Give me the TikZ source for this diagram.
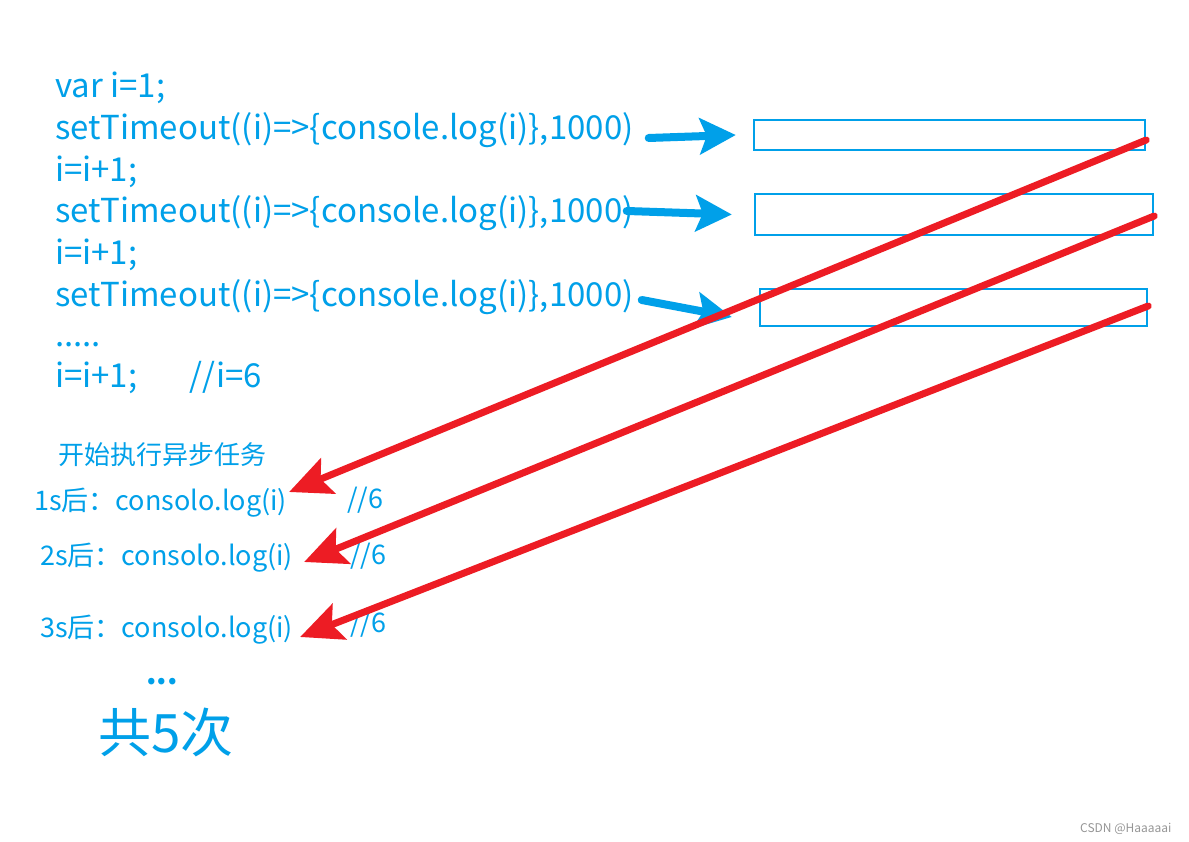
\documentclass[tikz,border=0pt]{standalone}
\usepackage{fontspec}
\setmainfont{Noto Sans CJK SC}
\usetikzlibrary{arrows.meta}
\begin{document}
\begin{tikzpicture}[x=1pt,y=1pt]
  \definecolor{codeblue}{RGB}{0,160,233}
  \definecolor{backred}{RGB}{237,28,36}
  \definecolor{markgray}{RGB}{150,150,150}
  \tikzset{
    code/.style={anchor=base west,inner sep=0pt,text=codeblue,font=\fontsize{33}{38}\selectfont},
    logline/.style={anchor=base west,inner sep=0pt,text=codeblue,font=\fontsize{27}{30}\selectfont},
    slot/.style={draw=codeblue,line width=2.4pt,inner sep=0pt},
    push/.style={codeblue,line width=8pt,line cap=round,-{Stealth[length=36pt,width=36pt,inset=7pt]}},
    back/.style={backred,line width=7pt,line cap=round,-{Stealth[length=42pt,width=38pt,inset=8pt]}}
  }
  \fill[white] (0,0) rectangle (1189,841);
  % code on the left
  \node[code] (v1)   at (55,743) {var i=1;};
  \node[code] (set1) at (55,701) {setTimeout((i)=>\{console.log(i)\},1000)};
  \node[code] (inc1) at (55,659) {i=i+1;};
  \node[code] (set2) at (55,618) {setTimeout((i)=>\{console.log(i)\},1000)};
  \node[code] (inc2) at (55,576) {i=i+1;};
  \node[code] (set3) at (55,534) {setTimeout((i)=>\{console.log(i)\},1000)};
  \node[code] (etc)  at (55,494) {.....};
  \node[code] (inc3) at (55,453) {i=i+1;\hspace*{52pt}//i=6};
  % timer slots
  \node[slot,minimum width=391pt,minimum height=30pt] (slot1) at (949.5,706) {};
  \node[slot,minimum width=398pt,minimum height=41pt] (slot2) at (954,626.5) {};
  \node[slot,minimum width=387pt,minimum height=37pt] (slot3) at (953.5,533.5) {};
  \draw[push] ([xshift=15pt,yshift=2pt]set1.base east) -- ([xshift=-17pt]slot1.west);
  \draw[push] ([xshift=-7pt,yshift=12pt]set2.base east) -- ([xshift=-22pt]slot2.west);
  \draw[push] ([xshift=8pt,yshift=7pt]set3.base east) -- ([xshift=-27pt,yshift=-9.5pt]slot3.west);
  % output after the delay
  \node[logline,font=\fontsize{26}{30}\selectfont] (head) at (58,376) {开始执行异步任务};
  \node[logline] (log1) at (34,330) {1s后：consolo.log(i)};
  \node[logline] (log2) at (40,275) {2s后：consolo.log(i)};
  \node[logline] (log3) at (40,203) {3s后：consolo.log(i)};
  \node[logline] (cmt1) at (347,332) {//6};
  \node[logline] (cmt2) at (350,276) {//6};
  \node[logline] (cmt3) at (350,208) {//6};
  \draw[back] ([yshift=-5pt]slot1.east) -- ([xshift=2pt,yshift=19pt]log1.base east);
  \draw[back] ([yshift=-1.5pt]slot2.east) -- ([xshift=11pt,yshift=4pt]log2.base east);
  \draw[back] ([yshift=1.5pt]slot3.east) -- ([xshift=7pt,yshift=1pt]log3.base east);
  \node[logline,font=\fontsize{30}{34}\bfseries] (more) at (146,156) {...};
  \node[logline,font=\fontsize{53}{58}\selectfont] (total) at (98,88) {共5次};
  \node[anchor=base west,inner sep=0pt,text=markgray,font=\fontsize{12}{14}\selectfont] (mark) at (1080,9) {CSDN @Haaaaai};
\end{tikzpicture}
\end{document}
